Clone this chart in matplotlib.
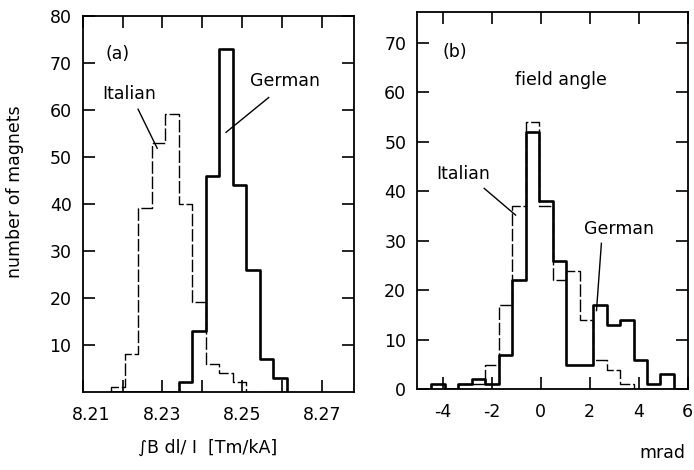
import matplotlib
matplotlib.use("Agg")
import matplotlib.pyplot as plt
from matplotlib.ticker import FixedLocator
from matplotlib.transforms import ScaledTranslation

plt.rcParams['font.family'] = ['DejaVu Sans']
plt.rcParams['axes.unicode_minus'] = False

# ---------------- data: panel (a) integrated field ----------------
edges_a = [8.2171, 8.2205, 8.2239, 8.2273, 8.2307, 8.2341, 8.2375,
           8.2409, 8.2443, 8.2477, 8.2511, 8.2545, 8.2579, 8.2613]
italian_a = [1, 8, 39, 53, 59, 40, 19, 6, 4, 2, 0, 0, 0]
german_a = [0, 0, 0, 0, 0, 2, 13, 46, 73, 44, 26, 7, 3]
xticks_a = [8.21, 8.23, 8.25, 8.27]
xminor_a = [8.22, 8.24, 8.26]
yticks_a = [10, 20, 30, 40, 50, 60, 70, 80]

# ---------------- data: panel (b) field angle ----------------
edges_b = [-4.46, -3.91, -3.36, -2.81, -2.26, -1.71, -1.16, -0.61, -0.06,
           0.49, 1.04, 1.59, 2.14, 2.69, 3.24, 3.79, 4.34, 4.89, 5.44]
german_b = [1, 0, 1, 2, 1, 7, 22, 52, 38, 26, 5, 5, 17, 13, 14, 6, 1, 3]
italian_b = [0, 0, 1, 1, 5, 17, 37, 54, 37, 22, 24, 14, 6, 4, 1, 0, 0, 0]
xticks_b = [-4, -2, 0, 2, 4, 6]
yticks_b = [0, 10, 20, 30, 40, 50, 60, 70]

FS = 12.5
fig = plt.figure(figsize=(6.94, 4.70), dpi=100)
ax1 = fig.add_axes([0.1192, 0.1664, 0.3902, 0.8002])
ax2 = fig.add_axes([0.6013, 0.1717, 0.3896, 0.8034])


def hist_steps(ax, edges, counts, **kw):
    xs = [edges[0]]
    ys = [0]
    for i, c in enumerate(counts):
        xs += [edges[i], edges[i + 1]]
        ys += [c, c]
    xs.append(edges[-1])
    ys.append(0)
    ax.plot(xs, ys, **kw)


for ax in (ax1, ax2):
    for s in ax.spines.values():
        s.set_linewidth(1.3)
    ax.tick_params(which='both', direction='in', length=8.5, width=1.2,
                   top=True, right=True, labelsize=FS)
    ax.tick_params(axis='x', pad=10)
    ax.tick_params(axis='y', pad=8)

# panel (a)
hist_steps(ax1, edges_a, italian_a, color='black', lw=1.0, ls=(0, (9, 2)))
hist_steps(ax1, edges_a, german_a, color='black', lw=1.9)
ax1.set_xlim(8.2102, 8.278)
ax1.set_ylim(0, 80)
ax1.set_xticks(xticks_a)
ax1.set_xticklabels([f"{v:.2f}" for v in xticks_a])
ax1.xaxis.set_minor_locator(FixedLocator(xminor_a))
ax1.set_yticks(yticks_a)
lab0 = ax1.get_xticklabels()[0]
lab0.set_transform(lab0.get_transform() + ScaledTranslation(8 / 100, 0, fig.dpi_scale_trans))
ax1.text(8.2188, 71.8, "(a)", fontsize=FS, ha='center', va='center')
ax1.text(8.2217, 63.3, "Italian", fontsize=FS, ha='center', va='center')
ax1.plot([8.2239, 8.2287], [60.1, 51.8], color='black', lw=1.0)
ax1.text(8.2608, 66.1, "German", fontsize=FS, ha='center', va='center')
ax1.plot([8.2567, 8.2460], [62.6, 55.2], color='black', lw=1.0)

# panel (b)
hist_steps(ax2, edges_b, italian_b, color='black', lw=1.0, ls=(0, (9, 2)))
hist_steps(ax2, edges_b, german_b, color='black', lw=1.9)
ax2.set_xlim(-5.03, 6.0)
ax2.set_ylim(0, 76.3)
ax2.set_xticks(xticks_b)
ax2.set_yticks(yticks_b)
ax2.text(-3.52, 68.2, "(b)", fontsize=FS, ha='center', va='center')
ax2.text(0.81, 62.5, "field angle", fontsize=FS, ha='center', va='center')
ax2.text(-3.16, 43.6, "Italian", fontsize=FS, ha='center', va='center')
ax2.plot([-2.30, -1.02], [40.6, 35.2], color='black', lw=1.0)
ax2.text(3.18, 32.3, "German", fontsize=FS, ha='center', va='center')
ax2.plot([2.48, 2.28], [29.5, 15.9], color='black', lw=1.0)

# axis labels
fig.text(15 / 694, 1 - 192 / 470, "number of magnets", rotation=90,
         fontsize=FS, ha='center', va='center')
fig.text(208 / 694, 1 - 448 / 470, "∫B dl/ I  [Tm/kA]",
         fontsize=FS, ha='center', va='center')
fig.text(662 / 694, 1 - 453 / 470, "mrad", fontsize=FS, ha='center', va='center')

fig.savefig("out.png", dpi=100)
